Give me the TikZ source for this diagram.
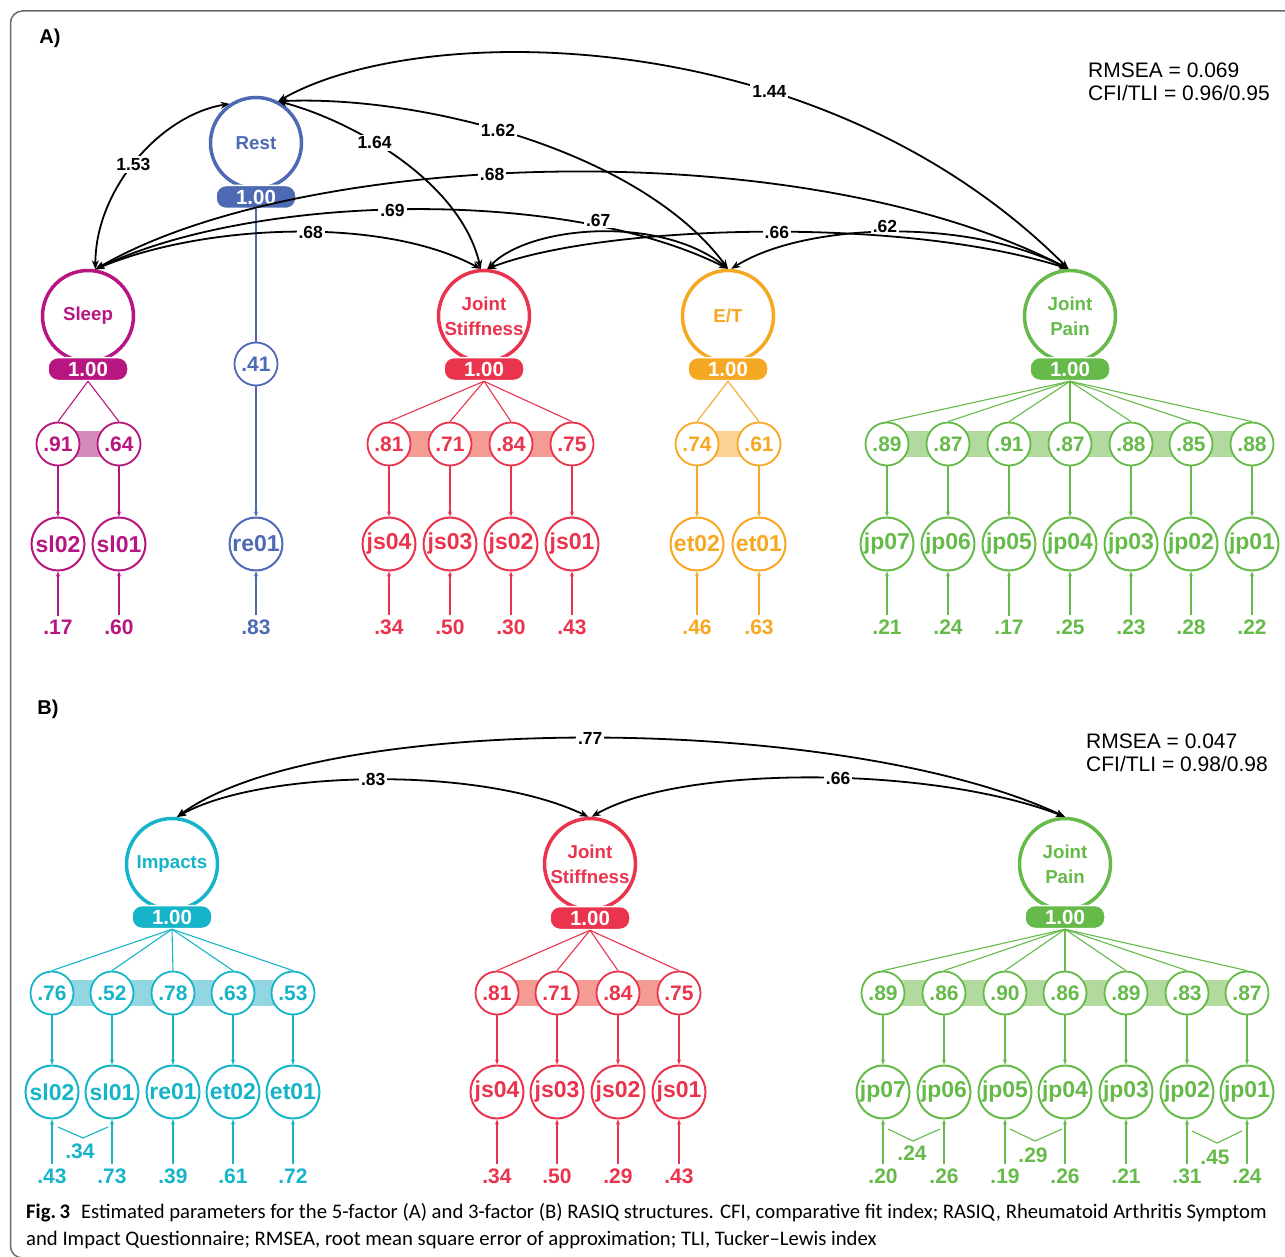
\documentclass[tikz,border=0pt]{standalone}
\usepackage{fontspec}
\setmainfont{Liberation Sans}
\newfontfamily\capfont{Carlito}
\usetikzlibrary{arrows.meta}

\definecolor{framegray}{RGB}{105,105,105}
\definecolor{sleepcol}{RGB}{183,22,128}
\definecolor{restcol}{RGB}{79,106,180}
\definecolor{jscol}{RGB}{234,51,77}
\definecolor{etcol}{RGB}{246,168,34}
\definecolor{jpcol}{RGB}{101,186,73}
\definecolor{impcol}{RGB}{22,180,200}
\definecolor{sleepband}{RGB}{212,140,186}
\definecolor{jsband}{RGB}{244,155,148}
\definecolor{etband}{RGB}{252,210,150}
\definecolor{jpband}{RGB}{178,218,158}
\definecolor{impband}{RGB}{145,214,224}

\tikzset{
  factor/.style={circle, draw=#1, line width=3.5pt, minimum size=91pt, inner sep=0pt, fill=white, text=#1, align=center, font=\fontsize{18.7}{25}\selectfont\bfseries},
  pill/.style={rectangle, rounded corners=10pt, fill=#1, draw=white, line width=1.5pt, minimum width=80pt, minimum height=23pt, inner sep=0pt, text=white, font=\fontsize{20.5}{20.5}\selectfont\bfseries},
  load/.style={circle, draw=#1, line width=1.8pt, minimum size=43pt, inner sep=0pt, fill=white, text=#1, font=\fontsize{21}{21}\selectfont\bfseries},
  item/.style={circle, draw=#1, line width=2pt, minimum size=53pt, inner sep=0pt, fill=white, text=#1, font=\fontsize{23}{23}\selectfont\bfseries},
  err/.style={text=#1, inner sep=4pt, font=\fontsize{21}{21}\selectfont\bfseries},
  ldline/.style={draw=#1, line width=1.1pt},
  arr/.style={draw=#1, line width=1.1pt, -{Stealth[length=5pt,width=4pt]}},
  cov/.style={line width=1.8pt, {Stealth[length=9pt,width=7pt]}-{Stealth[length=9pt,width=7pt]}},
  coef/.style={fill=white, inner sep=2pt, font=\fontsize{17.5}{17.5}\selectfont\bfseries},
  fitstat/.style={anchor=base west, inner sep=0pt, font=\fontsize{21}{21}\selectfont},
  panel/.style={font=\fontsize{20}{20}\selectfont\bfseries},
  caption/.style={anchor=base west, inner sep=0pt, font=\capfont\fontsize{20.7}{20.7}\selectfont},
}

\begin{document}
\begin{tikzpicture}[x=1pt, y=-1pt]
\useasboundingbox (0,0) rectangle (1285,1257);
\draw[framegray, line width=1.5pt, rounded corners=12pt] (10.5,11) rectangle (1300,1258);

% correlation bands behind the loadings
\fill[sleepband] (58,431) rectangle (119,457);
\fill[jsband] (389,431) rectangle (572,457);
\fill[etband] (697,431) rectangle (759,457);
\fill[jpband] (887,431) rectangle (1252,457);
\fill[impband] (52,980) rectangle (293,1006);
\fill[jsband] (497,980) rectangle (679,1006);
\fill[jpband] (883,980) rectangle (1247,1006);

% panel A
\node[panel] (lblA) at (50,38) {A)};
\node[fitstat] (fitA1) at (1088,78) {RMSEA = 0.069};
\node[fitstat] (fitA2) at (1088,101) {CFI/TLI = 0.96/0.95};

\node[factor=sleepcol] (aSL) at (88,316) {Sleep};
\node[pill=sleepcol] (aSLp) at (88,369) {1.00};
\node[factor=restcol] (aRE) at (256,143) {Rest};
\node[pill=restcol] (aREp) at (256,197) {1.00};
\node[factor=jscol] (aJS) at (484,316) {Joint\\Stiffness};
\node[pill=jscol] (aJSp) at (484,369) {1.00};
\node[factor=etcol] (aET) at (728,316) {E/T};
\node[pill=etcol] (aETp) at (728,369) {1.00};
\node[factor=jpcol] (aJP) at (1070,316) {Joint\\Pain};
\node[pill=jpcol] (aJPp) at (1070,369) {1.00};

\foreach \x/\ld/\nm/\er [count=\i] in {58/.91/sl02/.17, 119/.64/sl01/.60}{
  \node[load=sleepcol] (aSLl\i) at (\x,444) {\ld};
  \node[item=sleepcol] (aSLi\i) at (\x,544) {\nm};
  \node[err=sleepcol] (aSLe\i) at (\x,627) {\er};
  \draw[ldline=sleepcol] (aSLp.south) -- (aSLl\i.north);
  \draw[arr=sleepcol] (aSLl\i) -- (aSLi\i);
  \draw[arr=sleepcol] (aSLe\i.north) -- (aSLi\i.south);
}

\node[load=restcol] (aREl1) at (256,364) {.41};
\node[item=restcol] (aREi1) at (256,544) {re01};
\node[err=restcol] (aREe1) at (256,627) {.83};
\draw[ldline=restcol] (aREp.south) -- (aREl1.north);
\draw[arr=restcol] (aREl1) -- (aREi1);
\draw[arr=restcol] (aREe1.north) -- (aREi1.south);

\foreach \x/\ld/\nm/\er [count=\i] in {389/.81/js04/.34, 450/.71/js03/.50, 511/.84/js02/.30, 572/.75/js01/.43}{
  \node[load=jscol] (aJSl\i) at (\x,444) {\ld};
  \node[item=jscol] (aJSi\i) at (\x,544) {\nm};
  \node[err=jscol] (aJSe\i) at (\x,627) {\er};
  \draw[ldline=jscol] (aJSp.south) -- (aJSl\i.north);
  \draw[arr=jscol] (aJSl\i) -- (aJSi\i);
  \draw[arr=jscol] (aJSe\i.north) -- (aJSi\i.south);
}

\foreach \x/\ld/\nm/\er [count=\i] in {697/.74/et02/.46, 759/.61/et01/.63}{
  \node[load=etcol] (aETl\i) at (\x,444) {\ld};
  \node[item=etcol] (aETi\i) at (\x,544) {\nm};
  \node[err=etcol] (aETe\i) at (\x,627) {\er};
  \draw[ldline=etcol] (aETp.south) -- (aETl\i.north);
  \draw[arr=etcol] (aETl\i) -- (aETi\i);
  \draw[arr=etcol] (aETe\i.north) -- (aETi\i.south);
}

\foreach \x/\ld/\nm/\er [count=\i] in {887/.89/jp07/.21, 948/.87/jp06/.24, 1009/.91/jp05/.17, 1070/.87/jp04/.25, 1131/.88/jp03/.23, 1191/.85/jp02/.28, 1252/.88/jp01/.22}{
  \node[load=jpcol] (aJPl\i) at (\x,444) {\ld};
  \node[item=jpcol] (aJPi\i) at (\x,544) {\nm};
  \node[err=jpcol] (aJPe\i) at (\x,627) {\er};
  \draw[ldline=jpcol] (aJPp.south) -- (aJPl\i.north);
  \draw[arr=jpcol] (aJPl\i) -- (aJPi\i);
  \draw[arr=jpcol] (aJPe\i.north) -- (aJPi\i.south);
}

% factor covariances A
\draw[cov] (aSL.81) .. controls (95,190) and (160,115) .. node[coef, pos=.48] {1.53} (aRE.124);
\draw[cov] (aRE.62) .. controls (350,120) and (460,180) .. node[coef, pos=.4] {1.64} (aJS.94);
\draw[cov] (aRE.62) .. controls (420,95) and (640,150) .. node[coef, pos=.45] {1.62} (aET.90);
\draw[cov] (aRE.62) .. controls (420,20) and (820,20) .. node[coef, pos=.65] {1.44} (aJP.92);
\draw[cov] (aSL.81) .. controls (200,225) and (380,215) .. node[coef, pos=.55] {.68} (aJS.94);
\draw[cov] (aSL.81) .. controls (250,195) and (560,185) .. node[coef, pos=.48] {.69} (aET.90);
\draw[cov] (aSL.81) .. controls (300,150) and (800,130) .. node[coef, pos=.44] {.68} (aJP.92);
\draw[cov] (aJS.86) .. controls (530,225) and (660,215) .. node[coef, pos=.5, yshift=12pt] {.67} (aET.90);
\draw[cov] (aJS.86) .. controls (600,225) and (900,215) .. node[coef, pos=.53] {.66} (aJP.92);
\draw[cov] (aET.86) .. controls (800,225) and (960,215) .. node[coef, pos=.5, yshift=6pt] {.62} (aJP.92);

% panel B
\node[panel] (lblB) at (48,709) {B)};
\node[fitstat] (fitB1) at (1086,748) {RMSEA = 0.047};
\node[fitstat] (fitB2) at (1086,771) {CFI/TLI = 0.98/0.98};

\node[factor=impcol] (bIM) at (172,864) {Impacts};
\node[pill=impcol] (bIMp) at (172,917) {1.00};
\node[factor=jscol] (bJS) at (590,864) {Joint\\Stiffness};
\node[pill=jscol] (bJSp) at (590,918) {1.00};
\node[factor=jpcol] (bJP) at (1065,864) {Joint\\Pain};
\node[pill=jpcol] (bJPp) at (1065,917) {1.00};

\foreach \x/\ld/\nm/\er [count=\i] in {52/.76/sl02/.43, 112/.52/sl01/.73, 173/.78/re01/.39, 233/.63/et02/.61, 293/.53/et01/.72}{
  \node[load=impcol] (bIMl\i) at (\x,993) {\ld};
  \node[item=impcol] (bIMi\i) at (\x,1092) {\nm};
  \node[err=impcol] (bIMe\i) at (\x,1176) {\er};
  \draw[ldline=impcol] (bIMp.south) -- (bIMl\i.north);
  \draw[arr=impcol] (bIMl\i) -- (bIMi\i);
  \draw[arr=impcol] (bIMe\i.north) -- (bIMi\i.south);
}

\foreach \x/\ld/\nm/\er [count=\i] in {497/.81/js04/.34, 557/.71/js03/.50, 618/.84/js02/.29, 679/.75/js01/.43}{
  \node[load=jscol] (bJSl\i) at (\x,993) {\ld};
  \node[item=jscol] (bJSi\i) at (\x,1092) {\nm};
  \node[err=jscol] (bJSe\i) at (\x,1176) {\er};
  \draw[ldline=jscol] (bJSp.south) -- (bJSl\i.north);
  \draw[arr=jscol] (bJSl\i) -- (bJSi\i);
  \draw[arr=jscol] (bJSe\i.north) -- (bJSi\i.south);
}

\foreach \x/\ld/\nm/\er [count=\i] in {883/.89/jp07/.20, 944/.86/jp06/.26, 1005/.90/jp05/.19, 1065/.86/jp04/.26, 1126/.89/jp03/.21, 1187/.83/jp02/.31, 1247/.87/jp01/.24}{
  \node[load=jpcol] (bJPl\i) at (\x,993) {\ld};
  \node[item=jpcol] (bJPi\i) at (\x,1092) {\nm};
  \node[err=jpcol] (bJPe\i) at (\x,1176) {\er};
  \draw[ldline=jpcol] (bJPp.south) -- (bJPl\i.north);
  \draw[arr=jpcol] (bJPl\i) -- (bJPi\i);
  \draw[arr=jpcol] (bJPe\i.north) -- (bJPi\i.south);
}

% correlated errors
\draw[ldline=impcol] (58,1127) -- (83,1138) -- (108,1127);
\node[err=impcol, inner sep=0pt] (bIMc1) at (80,1151) {.34};
\draw[ldline=jpcol] (888,1129) -- (913,1141) -- (940,1129);
\node[err=jpcol, inner sep=0pt] (bJPc1) at (912,1153) {.24};
\draw[ldline=jpcol] (1010,1129) -- (1035,1141) -- (1062,1129);
\node[err=jpcol, inner sep=0pt] (bJPc2) at (1033,1155) {.29};
\draw[ldline=jpcol] (1192,1131) -- (1217,1143) -- (1242,1131);
\node[err=jpcol, inner sep=0pt] (bJPc3) at (1215,1157) {.45};

% factor covariances B
\draw[cov] (bIM.84) .. controls (260,770) and (480,765) .. node[coef, pos=.5] {.83} (bJS.92);
\draw[cov] (bIM.84) .. controls (320,712) and (840,712) .. node[coef, pos=.5] {.77} (bJP.90);
\draw[cov] (bJS.88) .. controls (680,765) and (930,765) .. node[coef, pos=.55] {.66} (bJP.90);

% caption
\node[caption] (cap1) at (26,1218) {{\bfseries Fig.\,3}\hspace{11pt}Estimated parameters for the 5-factor (A) and 3-factor (B) RASIQ structures. CFI, comparative fit index; RASIQ, Rheumatoid Arthritis Symptom};
\node[caption] (cap2) at (26,1245) {and Impact Questionnaire; RMSEA, root mean square error of approximation; TLI, Tucker–Lewis index};
\end{tikzpicture}
\end{document}
